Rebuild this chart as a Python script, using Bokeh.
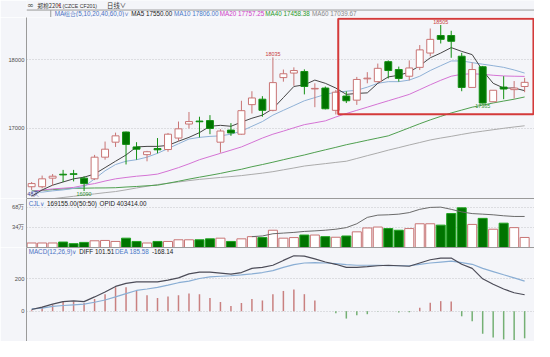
import numpy as np
from bokeh.plotting import figure
from bokeh.layouts import column
from bokeh.models import (LinearAxis, FixedTicker, Range1d, Label, BoxAnnotation, Grid, Span)
from bokeh.embed import file_html
from bokeh.resources import INLINE

# ---------------- data ----------------
opens = [16153,16153,16278,16335,16342,16278,16268,16583,16801,16949,16732,16620,16708,16694,16861,17065,
         17108,17115,16801,16977,16917,17347,17426,17264,17740,17806,17829,17575,17588,17264,17472,17412,
         17722,17681,17972,17857,17760,17889,18097,18352,18352,18051,17597,17898,17389,17602,17565,17611]
highs = [16222,16315,16338,16398,16398,16306,16616,16810,16940,16955,16801,16675,16861,16935,17101,17240,
         17171,17194,16990,17078,17403,17542,17470,18035,17857,17889,17860,17657,17610,17560,17540,17750,
         17819,17944,17990,17900,17990,18213,18454,18505,18421,18100,17958,17910,17556,17760,17690,17736]
lows = [16107,16130,16167,16222,16231,16090,16250,16546,16732,16477,16546,16523,16639,16662,16815,17000,
        16870,16917,16648,16893,16910,17218,17171,17250,17681,17621,17496,17310,17278,17204,17370,17343,
        17657,17670,17727,17681,17700,17850,18050,18236,18028,17542,17597,17365,17389,17426,17435,17528]
closes = [16199,16268,16306,16325,16333,16199,16583,16699,16893,16769,16699,16662,16690,16917,16995,17101,
          17098,17000,16963,16935,17259,17444,17264,17667,17796,17843,17611,17583,17287,17528,17403,17713,
          17732,17875,17843,17727,17880,18143,18296,18296,18268,17597,17857,17370,17556,17574,17588,17671]

ma5 = [16014,16107,16176,16222,16268,16292,16338,16431,16524,16615,16732,16740,16740,16754,16815,16871,
       16940,17032,17046,17032,17093,17149,17194,17288,17449,17611,17635,17704,17657,17588,17496,17510,
       17518,17657,17750,17774,17819,17913,18028,18097,18176,18121,18074,17843,17657,17588,17588,17550.00]
ma10 = [16083,16074,16093,16107,16129,16153,16268,16385,16476,16524,16546,16583,16639,16708,16778,16847,
        16871,16885,16893,16917,16962,17032,17101,17194,17264,17333,17403,17449,17496,17528,17542,17556,
        17601,17657,17681,17681,17704,17760,17843,17913,17982,17982,17958,17935,17913,17889,17851,17806.00]
ma20 = [16083,16104,16121,16132,16143,16174,16199,16236,16268,16288,16306,16319,16337,16382,16431,16486,
        16546,16593,16639,16685,16732,16796,16861,16917,16962,17010,17056,17083,17111,17167,17218,17264,
        17310,17357,17403,17449,17496,17565,17635,17701,17760,17788,17796,17788,17774,17764,17760,17757.25]
ma40 = [16093,16100,16111,16121,16129,16132,16135,16136,16139,16149,16157,16167,16176,16204,16233,16264,
        16292,16319,16347,16379,16407,16444,16476,16510,16546,16581,16615,16653,16690,16726,16764,16796,
        16829,16861,16893,16951,17010,17069,17125,17176,17226,17268,17310,17340,17371,17399,17426,17458.38]
ma60 = [15944,15958,15979,15997,16014,16032,16049,16067,16083,16108,16135,16160,16185,16204,16222,16242,
        16260,16274,16288,16301,16315,16333,16351,16372,16399,16426,16454,16472,16489,16507,16524,16564,
        16605,16644,16685,16722,16760,16796,16833,16861,16886,16914,16940,16961,16982,17003,17022,17039.67]

# volume in 万 (10k lots)
volume = [7.6,7.6,7.6,9.2,6.5,8.6,11.3,11.9,10.2,15.7,10.2,7.6,10.2,10.2,13.0,13.0,13.0,14.6,15.7,10.2,
          14.6,18.3,16.7,29.1,15.7,16.7,21.0,21.0,18.3,17.3,19.4,26.4,32.9,34.5,31.9,29.1,31.9,40.0,40.0,
          37.7,57.2,66.9,38.9,49.1,30.8,41.0,33.5,16.9155]
# open interest in 万, from bar 22 onward
oi = [34.59,34.78,35.41,35.60,35.79,36.07,36.23,36.42,36.70,37.16,38.26,40.07,40.72,40.81,41.00,41.44,
      42.37,42.92,43.00,42.37,41.63,41.16,41.00,40.81,40.53,40.34,40.3414]
oi_start = 21

diff = [10,25,43,59,63,59,88,118,153,172,181,181,181,192,206,231,241,241,235,229,239,265,271,284,314,
        343,341,324,304,290,271,271,275,281,284,281,278,298,318,328,329,290,265,200,166,137,114,101.51]
dea = [14,19,29,35,39,43,55,69,88,108,128,137,147,161,176,186,202,212,216,219,224,231,239,251,271,288,
       298,300,298,294,288,284,284,284,282,281,281,290,298,304,310,300,290,265,245,225,206,185.58]
macd = [5,26,40,56,60,50,75,105,148,148,125,99,81,91,99,109,105,81,56,32,50,75,66,105,125,134,105,66,0,
        -13,-46,-26,-19,-2,0,-9,-7,21,52,62,60,-32,-62,-140,-164,-175,-179,-168.14]

price_ticks = [17000, 18000]
vol_ticks = [34, 68]
macd_ticks = [0, 200]

# ---------------- layout / style ----------------
W, H = 534, 341
SX, SY = 534 / 550, 341 / 357
L = 26
H0, H1, H2, H3 = 17, 181, 49, 94
BG = "#f4f5f9"
AX = "#9a9a9a"
GRID = "#c4c4c8"
RED = "#c87474"
GREEN_FILL = "#007400"
GREEN_LINE = "#139013"
FONT = "Liberation Sans"
FS = "6.3px"


def price_at(ry):
    # reference pixel row -> price (18000 at row 62, 17000 at row 134)
    return 17000 + (134 - ry) / 0.072


x = np.arange(len(closes))
o = np.array(opens, float); c = np.array(closes, float)
hi = np.array(highs, float); lo = np.array(lows, float)
up = c >= o
xr = Range1d(-0.49, 47.94)


def make_fig(h, yr, xrange=xr, left=L):
    p = figure(width=W, height=h, x_range=xrange, y_range=yr, output_backend="svg", toolbar_location=None,
               x_axis_location=None, y_axis_location=None, min_border_left=left, min_border_right=0,
               min_border_top=0, min_border_bottom=0, background_fill_color=BG,
               border_fill_color=BG, outline_line_color=None)
    for g in p.grid:
        g.visible = False
    return p


def line_axis(p, where):
    a = LinearAxis(ticker=FixedTicker(ticks=[]), major_tick_out=0, major_tick_in=0,
                   minor_tick_out=0, minor_tick_in=0, major_label_standoff=0,
                   axis_line_color=AX, major_label_text_font_size="0px")
    p.add_layout(a, where)


def axes(p, ticks, overrides=None, top_line=True):
    ax = LinearAxis(ticker=FixedTicker(ticks=ticks), major_tick_out=0, major_tick_in=0,
                    minor_tick_out=0, minor_tick_in=0, axis_line_color=AX,
                    major_label_text_font_size="5.8px", major_label_text_color="#505050",
                    major_label_text_font=FONT, major_label_standoff=2)
    if overrides:
        ax.major_label_overrides = overrides
    p.add_layout(ax, "left")
    if top_line:
        line_axis(p, "above")
    p.add_layout(Grid(dimension=1, ticker=FixedTicker(ticks=ticks), grid_line_color=GRID,
                      grid_line_dash="1 2"))


def lab(p, rx, ry, text, color, base, size=FS, font=FONT, left=L):
    p.add_layout(Label(x=rx * SX - left, y=(base - ry) * SY, x_units="screen", y_units="screen",
                       text=text, text_color=color, text_font_size=size, text_font=font,
                       text_baseline="middle", text_align="left"))


# ---------------- header strip (title row + MA legend) ----------------
p0 = make_fig(H0, Range1d(0, H0), xrange=Range1d(0, W), left=0)
B0 = H0 / SY
sep = H0 - 10 * SY
p0.add_layout(Span(location=sep, dimension="width", line_color=AX, line_width=1))
p0.segment(x0=[L - 0.5], y0=[0], x1=[L - 0.5], y1=[sep], color=AX, line_width=1)
lab(p0, 0.5, 5.3, "∞", "#555555", B0, size="8px", font="DejaVu Sans", left=0)
lab(p0, 11, 5.3, "郑棉2201", "#333333", B0, size="5.8px", font="Noto Sans CJK SC", left=0)
lab(p0, 32.5, 4.3, "▾", "#d03030", B0, size="5px", font="DejaVu Sans", left=0)
lab(p0, 37, 5.3, "(CZCE CF201)", "#333333", B0, size="5.2px", left=0)
lab(p0, 83, 5.3, "日线∨", "#333333", B0, size="6.3px", font="Noto Sans CJK SC", left=0)

lab(p0, 29, 13.6, "MA组合(5,10,20,40,60,0)∨", "#4a72c4", B0, left=0)
lab(p0, 108, 13.6, f"MA5 {ma5[-1]:.2f}", "#222222", B0, left=0)
lab(p0, 152, 13.6, f"MA10 {ma10[-1]:.2f}", "#4a7ac8", B0, left=0)
lab(p0, 199, 13.6, f"MA20 {ma20[-1]:.2f}", "#d040c8", B0, left=0)
lab(p0, 246, 13.6, f"MA40 {ma40[-1]:.2f}", "#2a9a2a", B0, left=0)
lab(p0, 294, 13.6, f"MA60 {ma60[-1]:.2f}", "#8a8a8a", B0, left=0)

# ---------------- main price panel ----------------
B1 = (H0 + H1) / SY
p1 = make_fig(H1, Range1d(price_at(B1), price_at(B0)))
axes(p1, price_ticks, top_line=False)

p1.line(x, ma60, color="#ababab", line_width=1)
p1.line(x, ma40, color="#4f9f4f", line_width=1)
p1.line(x, ma20, color="#d473d4", line_width=1)
p1.line(x, ma10, color="#8fb1d6", line_width=1)
p1.line(x, ma5, color="#454545", line_width=1)

p1.segment(x[up], hi[up], x[up], lo[up], color=RED, line_width=1)
p1.segment(x[~up], hi[~up], x[~up], lo[~up], color=GREEN_LINE, line_width=1)
p1.vbar(x[up], 0.66, top=c[up], bottom=o[up], fill_color="white", line_color=RED, line_width=1)
p1.vbar(x[~up], 0.66, top=o[~up], bottom=c[~up], fill_color=GREEN_FILL, line_color=GREEN_LINE,
        line_width=1)

p1.add_layout(BoxAnnotation(left=29.23, right=47.84, top=18597, bottom=17208, fill_alpha=0,
                            line_color="#d43a3a", line_alpha=1.0, line_width=2))

# extreme value labels
for idx, side, col in [(23, "high", "#c83c3c"), (39, "high", "#c83c3c"),
                       (43, "low", "#2f8f2f"), (5, "low", "#2f8f2f")]:
    if side == "high":
        p1.add_layout(Label(x=idx, y=highs[idx], y_offset=1, text=f"{highs[idx]}", text_color=col,
                            text_font_size="5.4px", text_font=FONT, text_align="center",
                            text_baseline="bottom"))
    else:
        p1.add_layout(Label(x=idx, y=lows[idx], y_offset=-1, text=f"{lows[idx]}", text_color=col,
                            text_font_size="5.4px", text_font=FONT, text_align="center",
                            text_baseline="top"))
lab(p1, 27.5, 202.3, "48天", "#3a3a8a", B1, size="5.5px")

# ---------------- volume panel ----------------
v = np.array(volume, float)
p2 = make_fig(H2, Range1d(0, 82.6))
axes(p2, vol_ticks, {34: "34万", 68: "68万"})
p2.vbar(x[up], 0.86, top=v[up], bottom=0, fill_color="white", line_color=RED, line_width=1)
p2.vbar(x[~up], 0.86, top=v[~up], bottom=0, fill_color=GREEN_FILL, line_color="#1fa31f", line_width=1)
p2.extra_y_ranges = {"oi": Range1d(31.49, 45.46)}
p2.line(x[oi_start:], oi, color="#6a6a6a", line_width=1, y_range_name="oi")
lab(p2, 29, 212, "CJL∨", "#4a72c4", 258)
lab(p2, 48, 212, f"{volume[-1] * 10000:.2f}(50:50)", "#222222", 258)
lab(p2, 102, 212, f"OPID {oi[-1] * 10000:.2f}", "#222222", 258)

# ---------------- MACD panel ----------------
m = np.array(macd, float)
p3 = make_fig(H3, Range1d(-188, 394))
axes(p3, macd_ticks)
pos = m >= 0
p3.segment(x[pos], 0, x[pos], m[pos], color="#c98080", line_width=1.5)
p3.segment(x[~pos], 0, x[~pos], m[~pos], color="#74b074", line_width=1.5)
p3.line(x, dea, color="#8aaed4", line_width=1.2)
p3.line(x, diff, color="#4c4c58", line_width=1.2)
lab(p3, 29, 262.3, "MACD(12,26,9)∨", "#4a72c4", 357)
lab(p3, 81, 262.3, f"DIFF {diff[-1]:.2f}", "#222222", 357)
lab(p3, 118, 262.3, f"DEA {dea[-1]:.2f}", "#4a7ac8", 357)
lab(p3, 156, 262.3, f"{macd[-1]:.2f}", "#222222", 357)

layout = column(p0, p1, p2, p3, spacing=0)
open("out.html", "w").write(file_html(layout, INLINE))
